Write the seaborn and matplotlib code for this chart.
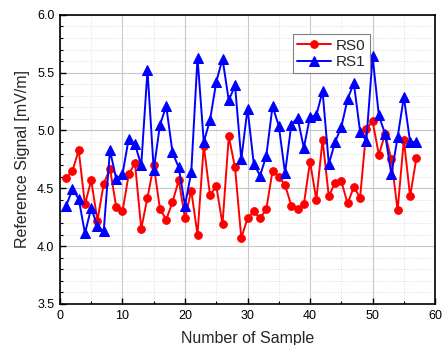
import numpy as np, pandas as pd, matplotlib
matplotlib.use('Agg')
import matplotlib.pyplot as plt
import seaborn as sns
from matplotlib.ticker import MultipleLocator

sns.set_theme(style='white')
plt.rcParams['font.family'] = ['Liberation Sans', 'DejaVu Sans']

# ── data ──────────────────────────────────────────────────────
samples = list(range(1, 58))
rs0 = [4.59, 4.65, 4.83, 4.36, 4.57, 4.22, 4.54, 4.67, 4.34, 4.30,
       4.62, 4.72, 4.15, 4.42, 4.70, 4.32, 4.23, 4.38, 4.57, 4.24,
       4.48, 4.10, 4.87, 4.44, 4.52, 4.19, 4.95, 4.68, 4.07, 4.24,
       4.30, 4.24, 4.32, 4.65, 4.60, 4.53, 4.35, 4.32, 4.36, 4.73,
       4.40, 4.92, 4.43, 4.55, 4.56, 4.37, 4.51, 4.42, 5.01, 5.08,
       4.79, 4.97, 4.75, 4.31, 4.92, 4.43, 4.76]
rs1 = [4.35, 4.49, 4.41, 4.11, 4.33, 4.17, 4.13, 4.83, 4.58, 4.62,
       4.93, 4.88, 4.70, 5.52, 4.66, 5.05, 5.21, 4.81, 4.68, 4.35,
       4.64, 5.63, 4.90, 5.09, 5.42, 5.62, 5.26, 5.39, 4.75, 5.19,
       4.71, 4.61, 4.78, 5.21, 5.04, 4.63, 5.05, 5.11, 4.85, 5.12,
       5.13, 5.34, 4.71, 4.90, 5.03, 5.27, 5.41, 4.99, 4.91, 5.64,
       5.13, 4.97, 4.62, 4.94, 5.29, 4.90, 4.90]

df = pd.DataFrame({'Sample': samples, 'RS0': rs0, 'RS1': rs1})

fig = plt.figure(figsize=(4.44, 3.45), dpi=100)
ax = fig.add_axes([0.135, 0.119, 0.845, 0.838])

sns.lineplot(data=df, x='Sample', y='RS0', ax=ax, color='#ff0000', marker='o',
             markersize=5.5, markeredgecolor='#ff0000', linewidth=1.4, label='RS0')
sns.lineplot(data=df, x='Sample', y='RS1', ax=ax, color='#0000ff', marker='^',
             markersize=6.5, markeredgecolor='#0000ff', linewidth=1.4, label='RS1')

ax.set_xlim(0, 60); ax.set_ylim(3.5, 6.0)
ax.xaxis.set_major_locator(MultipleLocator(10)); ax.xaxis.set_minor_locator(MultipleLocator(5))
ax.yaxis.set_major_locator(MultipleLocator(0.5)); ax.yaxis.set_minor_locator(MultipleLocator(0.1))
ax.grid(which='major', color='#c8c8c8', linewidth=0.8)
ax.grid(which='minor', color='#d8d8d8', linewidth=0.6, linestyle=':')
ax.set_axisbelow(True)
ax.tick_params(which='both', direction='in', bottom=True, left=True, labelsize=9,
               colors='black', pad=4)
ax.tick_params(which='major', length=4, width=1)
ax.tick_params(which='minor', length=2.5, width=0.8)
for s in ax.spines.values():
    s.set_color('black'); s.set_linewidth(1.2)

ax.set_xlabel('Number of Sample', fontsize=11.5, labelpad=7)
ax.set_ylabel('Reference Signal [mV/m]', fontsize=11.5, labelpad=5)

leg = ax.legend(loc='upper left', bbox_to_anchor=(0.6, 0.96), fontsize=11,
                fancybox=False, edgecolor='#808080', framealpha=1,
                handlelength=2.2, handletextpad=0.3, borderpad=0.3, labelspacing=0.15)
leg.get_frame().set_linewidth(0.8)

fig.savefig('out.png', dpi=100)
